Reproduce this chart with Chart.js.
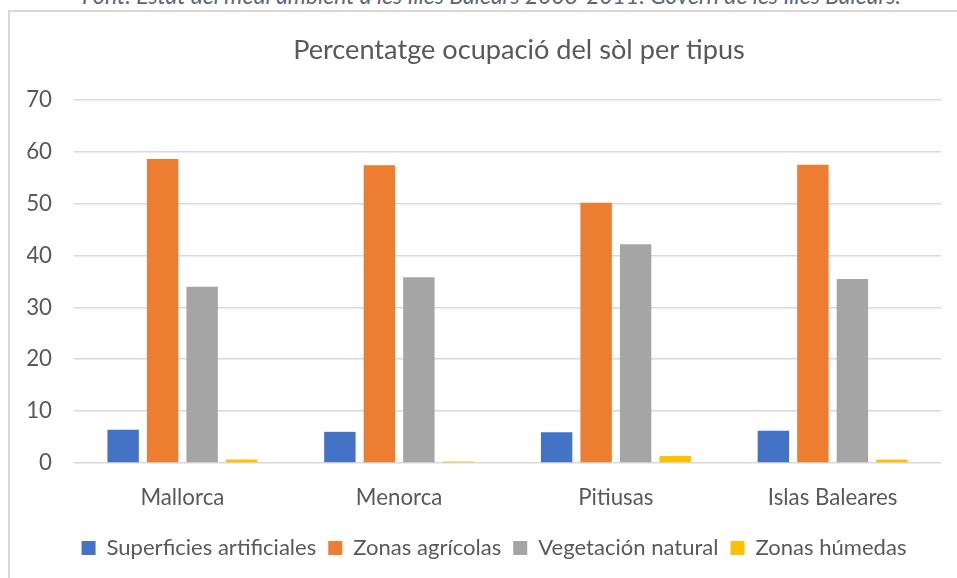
<!DOCTYPE html>
<html>
<head>
<meta charset="utf-8">
<script src="https://cdn.jsdelivr.net/npm/chart.js@4.4.1/dist/chart.umd.min.js"></script>
<style>
  html, body { margin: 0; padding: 0; background: #ffffff; width: 957px; height: 578px; overflow: hidden; }
  #frame { position: absolute; left: 8px; top: 10px; width: 1100px; height: 700px; border: 2px solid #d9d9d9; box-sizing: border-box; }
  #caption { position: absolute; left: 82px; top: -18px; white-space: nowrap; font-family: Lato, sans-serif; font-style: italic; color: #5f6673; line-height: 26px; }
  #wrap { position: absolute; left: 0; top: 0; width: 957px; height: 578px; }
</style>
</head>
<body>
<div id="caption">Font: Estat del medi ambient a les Illes Balears 2008-2011. Govern de les Illes Balears.</div>
<div id="frame"></div>
<div id="wrap"><canvas id="c" width="957" height="578"></canvas></div>
<script>
// ---- data ----
const chartTitle = 'Percentatge ocupació del sòl per tipus';
const categories = ['Mallorca', 'Menorca', 'Pitiusas', 'Islas Baleares'];
const seriesNames = ['Superficies artificiales', 'Zonas agrícolas', 'Vegetación natural', 'Zonas húmedas'];
const superficiesArtificiales = [6.4, 6.0, 5.9, 6.2];
const zonasAgricolas = [58.6, 57.4, 50.2, 57.5];
const vegetacionNatural = [34.0, 35.8, 42.2, 35.5];
const zonasHumedas = [0.65, 0.3, 1.35, 0.65];
const yTicks = [0, 10, 20, 30, 40, 50, 60, 70];

// ---- styling helpers ----
const seriesColors = ['#4472C4', '#ED7D31', '#A5A5A5', '#FFC000'];
const textColor = '#595959';
function fitSize(text, target, style) {
  const ctx = document.createElement('canvas').getContext('2d');
  ctx.font = (style || '') + ' 100px Lato';
  return 100 * target / ctx.measureText(text).width;
}
const titleSize = fitSize(chartTitle, 452);
const legendSize = fitSize('Zonas húmedas', 151);
const tickSize = fitSize('Mallorca', 84);
const capEl = document.getElementById('caption');
capEl.style.fontSize = fitSize(capEl.textContent, 819, 'italic') + 'px';

const titlePlugin = {
  id: 'customTitle',
  afterLayout(chart) {
    // centre the legend under the frame like the original
    const lg = chart.legend;
    if (lg) { lg.left += 10; lg.right += 10; }
  },
  afterDraw(chart) {
    const ctx = chart.ctx;
    ctx.save();
    ctx.font = titleSize + 'px Lato';
    ctx.fillStyle = textColor;
    ctx.textAlign = 'center';
    ctx.textBaseline = 'alphabetic';
    ctx.fillText(chartTitle, 519, 59);
    ctx.restore();
  }
};

const seriesData = [superficiesArtificiales, zonasAgricolas, vegetacionNatural, zonasHumedas];

new Chart(document.getElementById('c'), {
  type: 'bar',
  data: {
    labels: categories,
    datasets: seriesNames.map((name, i) => ({
      label: name,
      data: seriesData[i],
      backgroundColor: seriesColors[i],
      borderWidth: 0,
      categoryPercentage: 0.729,
      barPercentage: 0.795
    }))
  },
  options: {
    responsive: false,
    animation: false,
    devicePixelRatio: 1,
    layout: { padding: { left: 27, right: 16, top: 100, bottom: 9 } },
    plugins: {
      title: { display: false },
      tooltip: { enabled: false },
      legend: {
        display: true,
        position: 'bottom',
        labels: {
          boxWidth: 14,
          boxHeight: 14,
          padding: 12,
          color: textColor,
          font: { family: 'Lato', size: legendSize }
        }
      }
    },
    scales: {
      x: {
        grid: { display: false, drawTicks: false },
        border: { display: false },
        ticks: { color: textColor, font: { family: 'Lato', size: tickSize }, padding: 22 },
        afterFit(scale) { scale.height = 62; }
      },
      y: {
        min: 0,
        max: 70,
        afterBuildTicks(scale) { scale.ticks = yTicks.map(v => ({ value: v })); },
        grid: { color: '#d9d9d9', lineWidth: 1.5, drawTicks: false },
        border: { display: false },
        ticks: { color: textColor, font: { family: 'Lato', size: tickSize }, padding: 22 },
        afterFit(scale) { scale.width = 47; }
      }
    }
  },
  plugins: [titlePlugin]
});
</script>
</body>
</html>
